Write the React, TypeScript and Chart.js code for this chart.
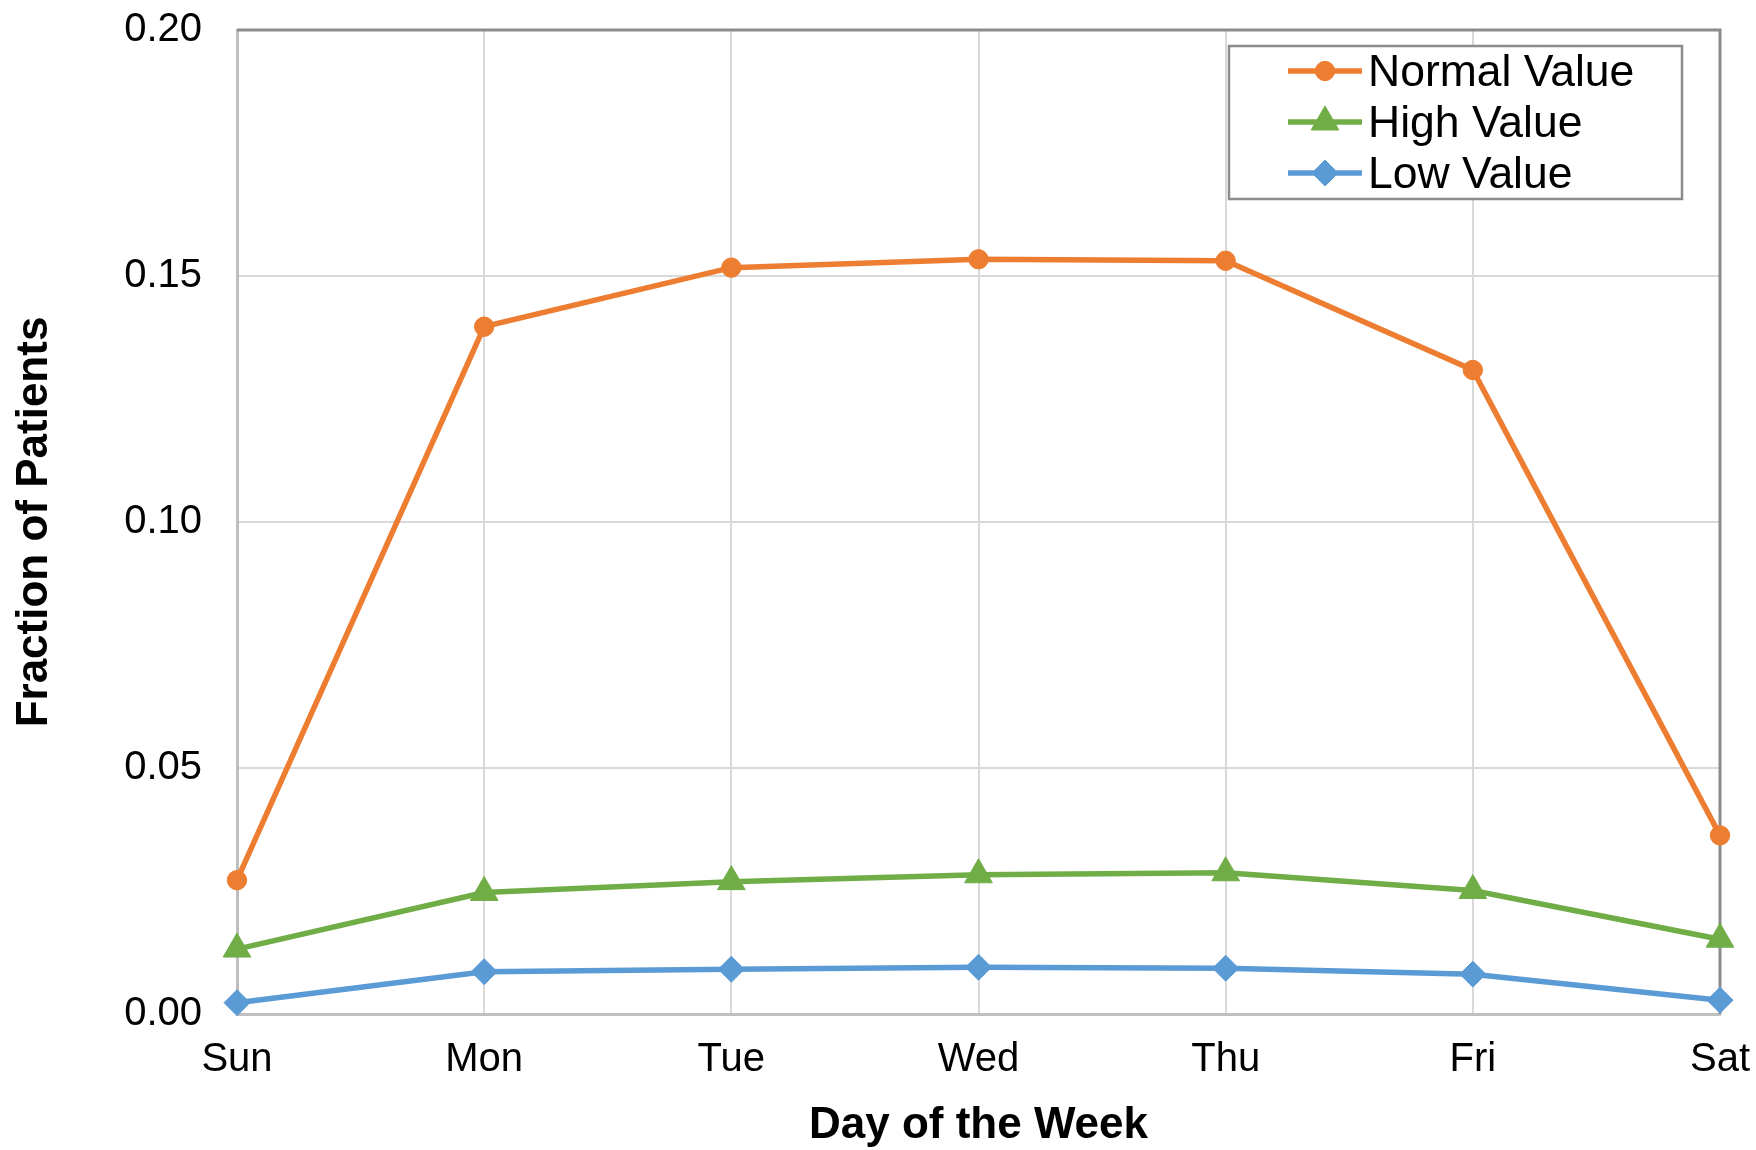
import React, { useEffect, useRef } from 'react';
import { Chart, registerables } from 'chart.js';
import { drawPoint } from 'chart.js/helpers';

Chart.register(...registerables);

const days = ['Sun', 'Mon', 'Tue', 'Wed', 'Thu', 'Fri', 'Sat'];
const normalValue = [0.0272, 0.1397, 0.1517, 0.1534, 0.1531, 0.1309, 0.0363];
const highValue = [0.0132, 0.0247, 0.0269, 0.0283, 0.0287, 0.0251, 0.0152];
const lowValue = [0.0023, 0.0086, 0.0091, 0.0095, 0.0093, 0.0081, 0.0028];
const yTickValues = [0, 0.05, 0.1, 0.15, 0.2];

const seriesNames = ['Normal Value', 'High Value', 'Low Value'];
const seriesColors = ['#ED7D31', '#70AD47', '#5B9BD5'];
const seriesStyles = ['circle', 'triangle', 'rectRot'];
const seriesRadii = [9.7, 16, 13];
const seriesValues = [normalValue, highValue, lowValue];

const FONT = '"Liberation Sans", Arial, Helvetica, sans-serif';

const framePlugin = {
  id: 'frame',
  beforeDatasetsDraw(chart: any) {
    const { ctx, chartArea } = chart;
    ctx.save();
    ctx.strokeStyle = '#8C8C8C';
    ctx.lineWidth = 3;
    ctx.beginPath();
    ctx.moveTo(chartArea.left, chartArea.top);
    ctx.lineTo(chartArea.right, chartArea.top);
    ctx.lineTo(chartArea.right, chartArea.bottom);
    ctx.stroke();
    ctx.restore();
  },
};

const legendPlugin = {
  id: 'insideLegend',
  afterDraw(chart: any) {
    const { ctx, chartArea } = chart;
    const boxW = 453;
    const boxH = 153;
    const x0 = chartArea.right - 38 - boxW;
    const y0 = chartArea.top + 16;
    ctx.save();
    ctx.fillStyle = '#ffffff';
    ctx.fillRect(x0, y0, boxW, boxH);
    ctx.strokeStyle = '#8C8C8C';
    ctx.lineWidth = 2.5;
    ctx.strokeRect(x0, y0, boxW, boxH);
    chart.data.datasets.forEach((ds: any, i: number) => {
      const ry = y0 + 25 + i * 51;
      ctx.strokeStyle = ds.borderColor;
      ctx.lineWidth = 5.5;
      ctx.beginPath();
      ctx.moveTo(x0 + 59, ry);
      ctx.lineTo(x0 + 133, ry);
      ctx.stroke();
      ctx.fillStyle = ds.backgroundColor;
      ctx.strokeStyle = ds.borderColor;
      ctx.lineWidth = 1;
      drawPoint(ctx, { pointStyle: ds.pointStyle, radius: ds.pointRadius, rotation: 0, borderWidth: 1 }, x0 + 96, ry);
      ctx.fillStyle = '#000000';
      ctx.font = `44.5px ${FONT}`;
      ctx.textAlign = 'left';
      ctx.textBaseline = 'alphabetic';
      ctx.fillText(ds.label, x0 + 139, ry + 15);
    });
    ctx.restore();
  },
};

export default function App() {
  const canvasRef = useRef<HTMLCanvasElement | null>(null);

  useEffect(() => {
    document.body.style.margin = '0';
    const canvas = canvasRef.current;
    if (!canvas) return;
    const chart = new Chart(canvas, {
      type: 'line',
      data: {
        labels: days,
        datasets: seriesNames.map((name, i) => ({
          label: name,
          data: seriesValues[i],
          borderColor: seriesColors[i],
          backgroundColor: seriesColors[i],
          pointBackgroundColor: seriesColors[i],
          pointBorderColor: seriesColors[i],
          pointStyle: seriesStyles[i] as any,
          pointRadius: seriesRadii[i],
          pointBorderWidth: 1,
          borderWidth: 5.5,
          tension: 0,
          clip: false as any,
        })),
      },
      options: {
        animation: false,
        responsive: false,
        maintainAspectRatio: false,
        layout: { padding: { left: 0, right: 36, top: 30, bottom: 0 } },
        plugins: {
          legend: { display: false },
          tooltip: { enabled: false },
          title: { display: false },
        },
        scales: {
          x: {
            type: 'category',
            offset: false,
            grid: { color: '#D9D9D9', lineWidth: 2, drawTicks: false },
            border: { display: true, color: '#BFBFBF', width: 3 },
            ticks: {
              color: '#000000',
              font: { family: FONT, size: 40 },
              padding: 22,
              maxRotation: 0,
              autoSkip: false,
            },
            title: {
              display: true,
              text: 'Day of the Week',
              color: '#000000',
              font: { family: FONT, size: 44, weight: 'bold', lineHeight: 1.1 },
              padding: { top: 0, bottom: 0 },
            },
            afterFit: (scale: any) => {
              scale.height = 136;
              scale.paddingLeft = 0;
              scale.paddingRight = 0;
            },
          },
          y: {
            type: 'linear',
            min: 0,
            max: 0.2,
            afterBuildTicks: (scale: any) => {
              scale.ticks = yTickValues.map((v) => ({ value: v }));
            },
            grid: { color: '#D9D9D9', lineWidth: 2, drawTicks: false },
            border: { display: true, color: '#BFBFBF', width: 3 },
            ticks: {
              color: '#000000',
              font: { family: FONT, size: 40 },
              padding: 35,
              callback: (v: any) => Number(v).toFixed(2),
            },
            title: {
              display: true,
              text: 'Fraction of Patients',
              color: '#000000',
              font: { family: FONT, size: 44, weight: 'bold', lineHeight: 1.2 },
              padding: { top: 8, bottom: 0 },
            },
            afterFit: (scale: any) => {
              scale.width = 237;
              scale.paddingTop = 0;
              scale.paddingBottom = 0;
            },
          },
        },
      },
      plugins: [framePlugin, legendPlugin],
    });
    return () => chart.destroy();
  }, []);

  return (
    <div style={{ position: 'absolute', left: 0, top: 0, width: 1756, height: 1150, background: '#ffffff' }}>
      <canvas ref={canvasRef} width={1756} height={1150} style={{ width: 1756, height: 1150, display: 'block' }} />
    </div>
  );
}
